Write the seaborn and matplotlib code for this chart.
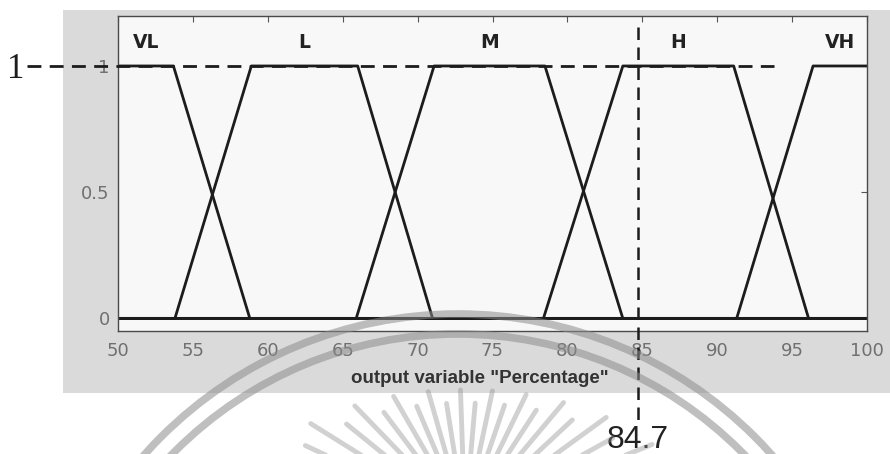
import numpy as np
import pandas as pd
import matplotlib
matplotlib.use("Agg")
import matplotlib.pyplot as plt
from matplotlib.patches import Circle
import seaborn as sns

# Trapezoidal membership functions of the output variable "Percentage"
terms = ["VL", "L", "M", "H", "VH"]
vl_params = [50.0, 50.0, 53.7, 58.8]
l_params = [53.8, 58.9, 66.0, 71.0]
m_params = [65.9, 71.1, 78.5, 83.7]
h_params = [78.4, 83.7, 91.1, 96.1]
vh_params = [91.3, 96.4, 100.0, 100.0]
x_range = [50, 100]
x_ticks = [50, 55, 60, 65, 70, 75, 80, 85, 90, 95, 100]
y_ticks = [0, 0.5, 1]
y_tick_labels = ["0", "0.5", "1"]

# hand-marked reference level and crisp output
ref_level = 1
ref_output = 84.7

params = [vl_params, l_params, m_params, h_params, vh_params]


def trap_outline(p, lo, hi):
    a, b, c, d = p
    pts = [(lo, 0), (a, 0), (b, 1), (c, 1), (d, 0), (hi, 0)]
    if a <= lo and b <= lo:
        pts = pts[2:]
    if c >= hi and d >= hi:
        pts = pts[:-2]
    return pts


rows = []
for term, p in zip(terms, params):
    for i, (x, mu) in enumerate(trap_outline(p, *x_range)):
        rows.append({"term": term, "order": i, "x": x, "mu": mu})
df = pd.DataFrame(rows)

sns.set_style("white")
plt.rcParams["font.family"] = ["DejaVu Sans"]

W, H = 890, 454
fig = plt.figure(figsize=(W / 100, H / 100), dpi=100)
fig.patch.set_facecolor("white")

# grey window background behind the axes
bg = fig.add_axes([63 / W, 1 - 393 / H, (W - 63) / W, (393 - 10) / H], zorder=-1)
bg.set_facecolor("#dadada")
bg.set_xticks([])
bg.set_yticks([])
for s in bg.spines.values():
    s.set_visible(False)

ax = fig.add_axes([118 / W, 1 - 331 / H, 749 / W, 315.5 / H], zorder=1)
ax.set_facecolor("#f8f8f8")

sns.lineplot(data=df, x="x", y="mu", units="term", estimator=None, sort=False,
             color="#1c1c1c", linewidth=2.0, ax=ax, legend=False)

ax.set_xlim(*x_range)
ax.set_ylim(-0.05, 1.2)
ax.set_xticks(x_ticks)
ax.set_xticklabels([str(t) for t in x_ticks])
ax.set_yticks(y_ticks)
ax.set_yticklabels(y_tick_labels)
ax.tick_params(direction="in", length=4, width=0.8, color="#555555",
               top=True, right=True, labelsize=13, labelcolor="#707070")
ax.tick_params(axis="x", pad=8)
ax.tick_params(axis="y", pad=6)
for s in ax.spines.values():
    s.set_color("#4a4a4a")
    s.set_linewidth(1.0)

ax.set_xlabel('output variable "Percentage"', fontsize=13.5, fontweight="bold",
              family="Liberation Sans", color="#333333")
ax.xaxis.set_label_coords(0.483, -0.125)
ax.set_ylabel("")

# term names above each plateau
for term, p in zip(terms, params):
    ax.text((p[1] + p[2]) / 2, 1.092, term, ha="center", va="center",
            fontsize=13.5, fontweight="bold", color="#222222")

# dashed guide lines for the reference level and the crisp output
ax.plot([43.9, 93.8], [ref_level, ref_level], color="#1c1c1c", lw=2.0,
        dashes=(5, 3), clip_on=False, zorder=4)
ax.plot([ref_output, ref_output], [1.155, -0.41], color="#1c1c1c", lw=1.8,
        dashes=(5, 3), clip_on=False, zorder=4)
fig.text(16 / W, 1 - 69 / H, str(ref_level), ha="center", va="center",
         fontsize=25, family="Liberation Serif", color="#1c1c1c", zorder=3)
ax.text(ref_output, -0.48, f"{ref_output}", ha="center", va="center",
        fontsize=23, family="Liberation Sans", color="#222222", clip_on=False)

# faint seal printed over the page
seal = fig.add_axes([0, 0, 1, 1], zorder=5)
seal.set_xlim(0, W)
seal.set_ylim(H, 0)
seal.axis("off")
seal.patch.set_alpha(0)
for r in (420, 400):
    seal.add_patch(Circle((458, 734), r, fill=False, lw=5.5,
                          edgecolor="#8c8c8c", alpha=0.55))
cx, cy, ra, rb = 465, 520, 230, 130
for k, th in enumerate(np.deg2rad(np.arange(22, 160, 7))):
    c, s = np.cos(th), np.sin(th)
    r_out = 1 / np.sqrt((c / ra) ** 2 + (s / rb) ** 2) * (1.0 if k % 2 == 0 else 0.9)
    r_in = 0.45 * r_out
    seal.plot([cx + r_in * c, cx + r_out * c], [cy - r_in * s, cy - r_out * s],
              color="#8c8c8c", alpha=0.4, lw=3.5, solid_capstyle="round")

fig.savefig("out.png", dpi=100)
